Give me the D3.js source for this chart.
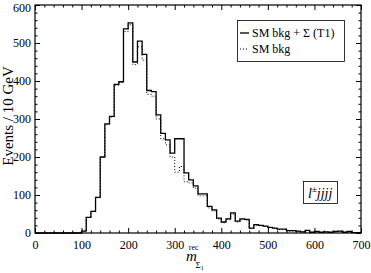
<!DOCTYPE html>
<html>
<head>
<meta charset="utf-8">
<script src="https://cdn.jsdelivr.net/npm/d3@7"></script>
<style>
  body { margin: 0; background: #fff; }
  svg { display: block; font-family: "Liberation Serif", "DejaVu Serif", serif; }
</style>
</head>
<body>
<svg id="chart" width="371" height="273"></svg>
<script>
// histogram bins, 10 GeV wide, lower edges
const binLow = [
  0, 10, 20, 30, 40, 50, 60, 70, 80, 90,
  100, 110, 120, 130, 140, 150, 160, 170, 180, 190,
  200, 210, 220, 230, 240, 250, 260, 270, 280, 290,
  300, 310, 320, 330, 340, 350, 360, 370, 380, 390,
  400, 410, 420, 430, 440, 450, 460, 470, 480, 490,
  500, 510, 520, 530, 540, 550, 560, 570, 580, 590,
  600, 610, 620, 630, 640, 650, 660, 670, 680, 690
];

// SM bkg + Sigma (T1)
const sigPlusBkg = [
  0, 0, 0, 0, 0, 0, 0, 0, 0, 0,
  5, 41, 57, 94, 200, 287, 307, 391, 398, 537,
  553, 450, 505, 470, 375, 372, 311, 262, 245, 210,
  248, 248, 158, 140, 124, 103, 103, 70, 61, 39,
  29, 37, 53, 31, 37, 36, 13, 22, 20, 18,
  15, 13, 10, 10, 6, 6, 5, 3, 7, 2,
  4, 2, 3, 2, 4, 5, 2, 4, 1, 1
];

// SM bkg only
const smBkg = [
  0, 0, 0, 0, 0, 0, 0, 0, 0, 0,
  5, 41, 57, 93, 199, 285, 305, 389, 396, 530,
  548, 443, 490, 455, 365, 360, 300, 248, 232, 200,
  160, 175, 135, 132, 118, 98, 98, 66, 58, 37,
  27, 35, 50, 29, 35, 34, 12, 20, 19, 17,
  14, 12, 9, 9, 5, 5, 4, 3, 6, 2,
  3, 2, 3, 2, 3, 4, 2, 3, 1, 1
];

const xTicks = [0, 100, 200, 300, 400, 500, 600, 700];
const yTicks = [0, 100, 200, 300, 400, 500, 600];

const width = 371, height = 273;
const margin = { top: 5, right: 10, bottom: 40, left: 35 };

const svg = d3.select("#chart");

const x = d3.scaleLinear().domain([0, 700]).range([margin.left, width - margin.right]);
const y = d3.scaleLinear().domain([0, 600]).range([height - margin.bottom, margin.top]);

// ticks: major every 100, minor every 20, drawn inward on all four sides
const minorX = d3.range(0, 701, 20).filter((v) => v % 100 !== 0);
const minorY = d3.range(0, 601, 20).filter((v) => v % 100 !== 0);

const addAxis = (axis, tr, cls) =>
  svg.append("g").attr("class", cls).attr("transform", tr).call(axis);

addAxis(
  d3.axisBottom(x).tickValues(xTicks).tickSizeInner(-5).tickSizeOuter(0).tickPadding(7),
  `translate(0,${y(0)})`, "xb");
addAxis(d3.axisBottom(x).tickValues(minorX).tickSizeInner(-2.5).tickSizeOuter(0).tickFormat(""),
  `translate(0,${y(0)})`, "xbm");
addAxis(d3.axisTop(x).tickValues(xTicks).tickSizeInner(-5).tickSizeOuter(0).tickFormat(""),
  `translate(0,${y(600)})`, "xt");
addAxis(d3.axisTop(x).tickValues(minorX).tickSizeInner(-2.5).tickSizeOuter(0).tickFormat(""),
  `translate(0,${y(600)})`, "xtm");
addAxis(
  d3.axisLeft(y).tickValues(yTicks).tickSizeInner(-5).tickSizeOuter(0).tickPadding(4),
  `translate(${x(0)},0)`, "yl");
addAxis(d3.axisLeft(y).tickValues(minorY).tickSizeInner(-2.5).tickSizeOuter(0).tickFormat(""),
  `translate(${x(0)},0)`, "ylm");
addAxis(d3.axisRight(y).tickValues(yTicks).tickSizeInner(-5).tickSizeOuter(0).tickFormat(""),
  `translate(${x(700)},0)`, "yr");
addAxis(d3.axisRight(y).tickValues(minorY).tickSizeInner(-2.5).tickSizeOuter(0).tickFormat(""),
  `translate(${x(700)},0)`, "yrm");

svg.selectAll(".domain").remove();
svg.selectAll(".tick line").attr("stroke", "#000").attr("stroke-width", 1);
svg.selectAll(".tick text")
  .attr("font-family", "Liberation Serif, serif")
  .attr("font-size", 12)
  .attr("fill", "#000");
// keep the top label inside the page
svg.selectAll(".yl .tick text").filter((d) => d === 600).attr("dy", "0.5em");

// histogram lines
const stepPts = (vals) => {
  const pts = binLow.map((b, i) => [b, vals[i]]);
  pts.push([700, vals[vals.length - 1]]);
  return pts;
};
const line = d3.line().x((d) => x(d[0])).y((d) => y(d[1])).curve(d3.curveStepAfter);

svg.append("path")
  .attr("d", line(stepPts(smBkg)))
  .attr("fill", "none")
  .attr("stroke", "#000")
  .attr("stroke-width", 1)
  .attr("stroke-dasharray", "1,2");

svg.append("path")
  .attr("d", line(stepPts(sigPlusBkg)))
  .attr("fill", "none")
  .attr("stroke", "#000")
  .attr("stroke-width", 1.3);

// frame
svg.append("rect")
  .attr("x", x(0)).attr("y", y(600))
  .attr("width", x(700) - x(0)).attr("height", y(0) - y(600))
  .attr("fill", "none").attr("stroke", "#000").attr("stroke-width", 1.2);

// axis titles
svg.append("text")
  .attr("transform", `translate(13,${116}) rotate(-90)`)
  .attr("text-anchor", "middle")
  .attr("font-size", 15)
  .text("Events / 10 GeV");

const xl = svg.append("text")
  .attr("x", 186).attr("y", 261)
  .attr("font-size", 15);
xl.append("tspan").attr("font-style", "italic").text("m");
xl.append("tspan").attr("font-size", 8).attr("dx", -8).attr("dy", -11).text("rec");
xl.append("tspan").attr("font-size", 9).attr("dx", -3).attr("dy", 18).text("Σ");
xl.append("tspan").attr("font-size", 6).attr("dy", 2).text("1");

// legend
const lg = svg.append("g");
lg.append("rect")
  .attr("x", 237.5).attr("y", 20.5).attr("width", 107).attr("height", 41)
  .attr("fill", "#fff").attr("stroke", "#000").attr("stroke-width", 0.8);
lg.append("line")
  .attr("x1", 240).attr("x2", 249).attr("y1", 33).attr("y2", 33)
  .attr("stroke", "#000").attr("stroke-width", 1.3);
lg.append("line")
  .attr("x1", 240).attr("x2", 249).attr("y1", 49).attr("y2", 49)
  .attr("stroke", "#000").attr("stroke-width", 1).attr("stroke-dasharray", "1,2");
lg.append("text").attr("x", 252).attr("y", 37).attr("font-size", 12).text("SM bkg + Σ (T1)");
lg.append("text").attr("x", 252).attr("y", 53).attr("font-size", 12).text("SM bkg");

// channel label
svg.append("rect")
  .attr("x", 303.5).attr("y", 181.5).attr("width", 34).attr("height", 22)
  .attr("fill", "#fff").attr("stroke", "#000").attr("stroke-width", 0.8);
const ch = svg.append("text")
  .attr("x", 308).attr("y", 198)
  .attr("font-size", 14).attr("font-style", "italic");
ch.append("tspan").text("l");
ch.append("tspan").attr("font-size", 9).attr("dy", -6).attr("font-style", "normal").text("±");
ch.append("tspan").attr("dy", 6).text("jjjj");
</script>
</body>
</html>
